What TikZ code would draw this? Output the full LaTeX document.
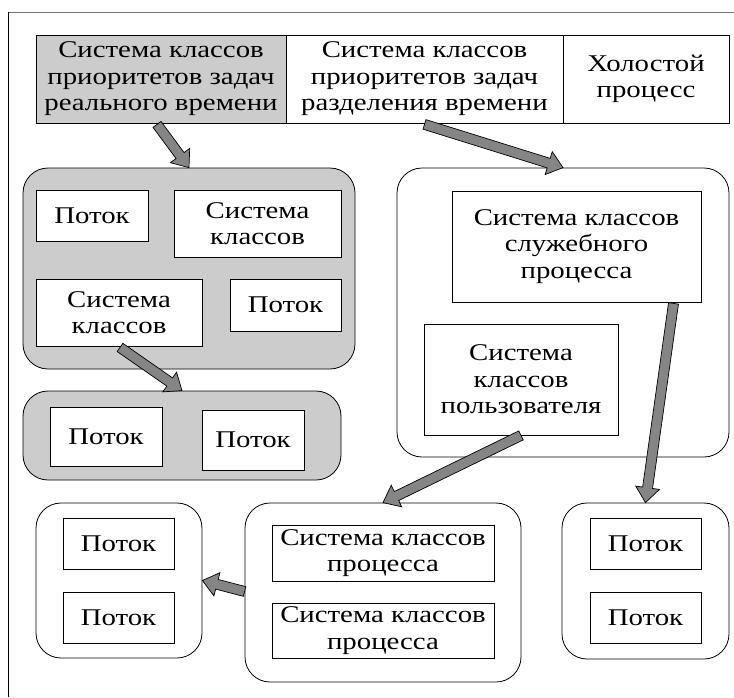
\documentclass[tikz,border=0pt]{standalone}
\usepackage{fontspec}
\setmainfont{Liberation Serif}[FakeStretch=1.2]
\usetikzlibrary{calc}
\definecolor{boxgray}{gray}{0.8}
\definecolor{arrgray}{gray}{0.52}
\definecolor{framegray}{gray}{0.45}
\tikzset{
  box/.style={draw, line width=0.8pt, align=center, inner sep=0pt,
    font=\fontsize{24}{26.5}\selectfont},
  grp/.style={draw, line width=0.8pt, rounded corners=25pt, inner sep=0pt},
  gfill/.style={fill=boxgray},
  wfill/.style={fill=white},
  arrowstyle/.style={draw=black, fill=arrgray, line width=0.7pt, line join=miter}
}
\newcommand{\blockarr}[2]{%
  \coordinate (ba-c) at ($(#2)!15pt!(#1)$);
  \draw[arrowstyle] ($(#1)!5pt!90:(#2)$) -- ($(ba-c)!5pt!-90:(#1)$) -- ($(ba-c)!12pt!-90:(#1)$) -- (#2)
     -- ($(ba-c)!12pt!90:(#1)$) -- ($(ba-c)!5pt!90:(#1)$) -- ($(#1)!5pt!-90:(#2)$) -- cycle;}
\begin{document}
\begin{tikzpicture}[x=1pt,y=-1pt]
\useasboundingbox (0,0) rectangle (734,697);
% frame
\draw[framegray, line width=0.9pt] (8,12) -- (734,12);
\draw[black, line width=0.9pt] (8,12) -- (8,697);

% top bar
\node[box, gfill, minimum width=250pt, minimum height=88pt] (t1) at (161,79)
  {Система классов\\приоритетов задач\\реального времени};
\node[box, wfill, minimum width=277pt, minimum height=88pt] (t2) at (424.5,79)
  {Система классов\\приоритетов задач\\разделения времени};
\node[box, wfill, minimum width=166pt, minimum height=88pt] (t3) at (646,79)
  {Холостой\\процесс};

% left gray group
\node[grp, gfill, minimum width=332pt, minimum height=201pt] (g1) at (189,268.5) {};
\node[box, wfill, minimum width=112pt, minimum height=51pt] (p1) at (92,215.5) {Поток};
\node[box, wfill, minimum width=167pt, minimum height=67pt] (s1) at (257.5,223.5) {Система\\классов};
\node[box, wfill, minimum width=166pt, minimum height=67pt] (s2) at (119,312.5) {Система\\классов};
\node[box, wfill, minimum width=111pt, minimum height=52pt] (p2) at (285.5,305) {Поток};

% second gray group
\node[grp, gfill, minimum width=318pt, minimum height=89pt] (g2) at (182,435.5) {};
\node[box, wfill, minimum width=112pt, minimum height=59pt] (p3) at (106,436.5) {Поток};
\node[box, wfill, minimum width=102pt, minimum height=60pt] (p4) at (253,440) {Поток};

% right group
\node[grp, wfill, minimum width=332pt, minimum height=289pt] (r1) at (563,312.5) {};
\node[box, wfill, minimum width=249pt, minimum height=111pt] (sl) at (576.5,246.5)
  {Система классов\\служебного\\процесса};
\node[box, wfill, minimum width=194pt, minimum height=111pt] (us) at (521,379.5)
  {Система\\классов\\пользователя};

% bottom left
\node[grp, wfill, minimum width=166pt, minimum height=155pt] (b1) at (119,580.5) {};
\node[box, wfill, minimum width=111pt, minimum height=51pt] (p5) at (118.5,543.5) {Поток};
\node[box, wfill, minimum width=111pt, minimum height=51pt] (p6) at (118.5,617.5) {Поток};

% bottom middle
\node[grp, wfill, minimum width=276pt, minimum height=179pt] (b2) at (383,592.5) {};
\node[box, wfill, minimum width=222pt, minimum height=56pt] (pr1) at (383,553)
  {Система классов\\процесса};
\node[box, wfill, minimum width=222pt, minimum height=55pt] (pr2) at (383,630.5)
  {Система классов\\процесса};

% bottom right
\node[grp, wfill, minimum width=167pt, minimum height=156pt] (b3) at (645.5,581) {};
\node[box, wfill, minimum width=111pt, minimum height=51pt] (p7) at (645.5,543.5) {Поток};
\node[box, wfill, minimum width=111pt, minimum height=51pt] (p8) at (645.5,617.5) {Поток};

% arrow end points
\coordinate (a1s) at ($(t1.south)+(-4,1)$);
\coordinate (a2s) at ($(s2.south)+(1,1)$);
\coordinate (a3s) at ($(t2.south)+(0,1)$);
\coordinate (a4s) at ($(sl.south)+(97,1)$);
\coordinate (a5s) at ($(us.south)+(0,0)$);
\coordinate (a6s) at ($(b2.west)+(0,-1)$);

\blockarr{a1s}{g1.north}
\blockarr{a2s}{g2.north}
\blockarr{a3s}{r1.north}
\blockarr{a4s}{b3.north}
\blockarr{a5s}{b2.north}
\blockarr{a6s}{b1.east}
\end{tikzpicture}
\end{document}
